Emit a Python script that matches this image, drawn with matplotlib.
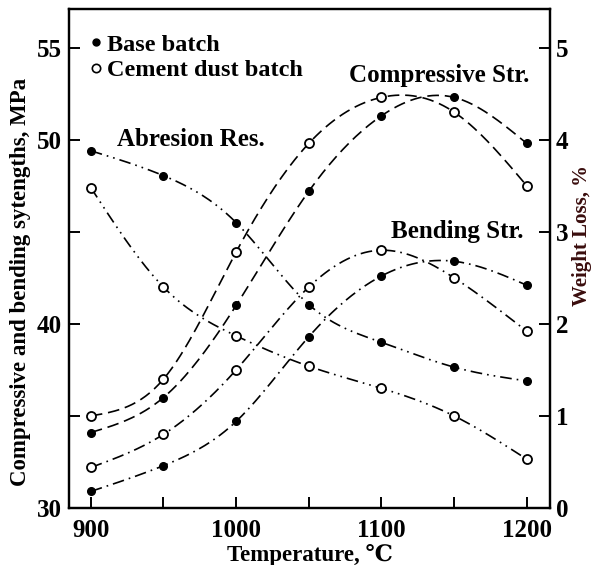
import numpy as np
import matplotlib
matplotlib.use("Agg")
import matplotlib.pyplot as plt
from matplotlib.lines import Line2D

# Datos
temperatura = [900, 950, 1000, 1050, 1100, 1150, 1200]

comp_base = [34.1, 36.0, 41.0, 47.2, 51.3, 52.3, 49.8]
comp_cemento = [35.0, 37.0, 43.9, 49.8, 52.3, 51.5, 47.5]

flex_base = [30.9, 32.3, 34.7, 39.3, 42.6, 43.4, 42.1]
flex_cemento = [32.2, 34.0, 37.5, 42.0, 44.0, 42.5, 39.6]

abr_base = [3.88, 3.61, 3.10, 2.21, 1.80, 1.53, 1.38]
abr_cemento = [3.48, 2.40, 1.87, 1.54, 1.30, 1.00, 0.53]

SERIF = ["Liberation Serif", "DejaVu Serif"]
plt.rcParams["font.family"] = SERIF
plt.rcParams["font.weight"] = "bold"


def spline(x, y, n=200):
    """Spline cúbica natural para suavizar la curva entre puntos."""
    x = np.asarray(x, float)
    y = np.asarray(y, float)
    k = len(x)
    h = np.diff(x)
    A = np.zeros((k, k))
    b = np.zeros(k)
    A[0, 0] = A[-1, -1] = 1
    for i in range(1, k - 1):
        A[i, i - 1] = h[i - 1]
        A[i, i] = 2 * (h[i - 1] + h[i])
        A[i, i + 1] = h[i]
        b[i] = 6 * ((y[i + 1] - y[i]) / h[i] - (y[i] - y[i - 1]) / h[i - 1])
    M = np.linalg.solve(A, b)
    xs = np.linspace(x[0], x[-1], n)
    idx = np.clip(np.searchsorted(x, xs) - 1, 0, k - 2)
    x0, x1 = x[idx], x[idx + 1]
    hh = x1 - x0
    t0, t1 = x1 - xs, xs - x0
    ys = (M[idx] * t0**3 + M[idx + 1] * t1**3) / (6 * hh) \
        + (y[idx] / hh - M[idx] * hh / 6) * t0 \
        + (y[idx + 1] / hh - M[idx + 1] * hh / 6) * t1
    return xs, ys


def curva(ax, x, y, estilo, lleno):
    xs, ys = spline(x, y)
    ax.plot(xs, ys, color="black", lw=1.2, ls=estilo)
    if lleno:
        ax.plot(x, y, "o", ms=5.5, mfc="black", mec="black", ls="none")
    else:
        ax.plot(x, y, "o", ms=6.5, mfc="white", mec="black", mew=1.3, ls="none")


DASH = (0, (7, 3.5))
DASHDOT = (0, (7, 3, 1, 3))
DASHDOTDOT = (0, (7, 3, 1, 3, 1, 3))

fig = plt.figure(figsize=(5.92, 5.65), dpi=100)
ax = fig.add_axes([69 / 592, 57 / 565, 481 / 592, 499 / 565])
ax2 = ax.twinx()

curva(ax, temperatura, comp_base, DASH, True)
curva(ax, temperatura, comp_cemento, DASH, False)
curva(ax, temperatura, flex_base, DASHDOT, True)
curva(ax, temperatura, flex_cemento, DASHDOT, False)
curva(ax2, temperatura, abr_base, DASHDOTDOT, True)
curva(ax2, temperatura, abr_cemento, DASHDOTDOT, False)

ax.set_xlim(885, 1216)
ax.set_ylim(30, 57.1)
ax2.set_ylim(0, 5.42)

ax.set_xticks([900, 950, 1000, 1050, 1100, 1150, 1200])
ax.set_xticklabels(["900", "", "1000", "", "1100", "", "1200"])
ax.set_yticks([30, 35, 40, 45, 50, 55])
ax.set_yticklabels(["30", "", "40", "", "50", "55"])
ax2.set_yticks([0, 1, 2, 3, 4, 5])

for a in (ax, ax2):
    for s in a.spines.values():
        s.set_linewidth(1.6)
ax.tick_params(axis="both", direction="in", length=8, width=1.4, labelsize=18, pad=5)
ax.tick_params(axis="x", pad=8)
ax2.tick_params(axis="y", direction="in", length=8, width=1.4, labelsize=18, pad=4)

ax.set_xlabel("Temperature, \u2103", fontsize=16.5, fontweight="bold", labelpad=1)
fig.text(21 / 592, 1 - 282 / 565, "Compressive and bending sytengths, MPa",
         rotation=90, ha="center", va="center", fontsize=16.5, fontweight="bold")
fig.text(582 / 592, 1 - 236 / 565, "Weight Loss, %", rotation=90,
         ha="center", va="center", fontsize=15, fontweight="bold", color="#3a0d0d")

ax.text(969, 50.0, "Abresion Res.", fontsize=18, ha="center", va="center")
ax.text(1140, 53.5, "Compressive Str.", fontsize=18, ha="center", va="center")
ax.text(1152, 45.0, "Bending Str.", fontsize=18, ha="center", va="center")

manejadores = [
    Line2D([], [], marker="o", ls="none", ms=5, mfc="black", mec="black"),
    Line2D([], [], marker="o", ls="none", ms=6, mfc="white", mec="black", mew=1.2),
]
ax.legend(manejadores, ["Base batch", "Cement dust batch"], loc="upper left",
          bbox_to_anchor=(0.01, 0.985), frameon=False, handlelength=0.4,
          handletextpad=0.25, labelspacing=0.15, borderpad=0.2,
          prop={"family": SERIF, "weight": "bold", "size": 17.5})

fig.savefig("out.png", dpi=100)
